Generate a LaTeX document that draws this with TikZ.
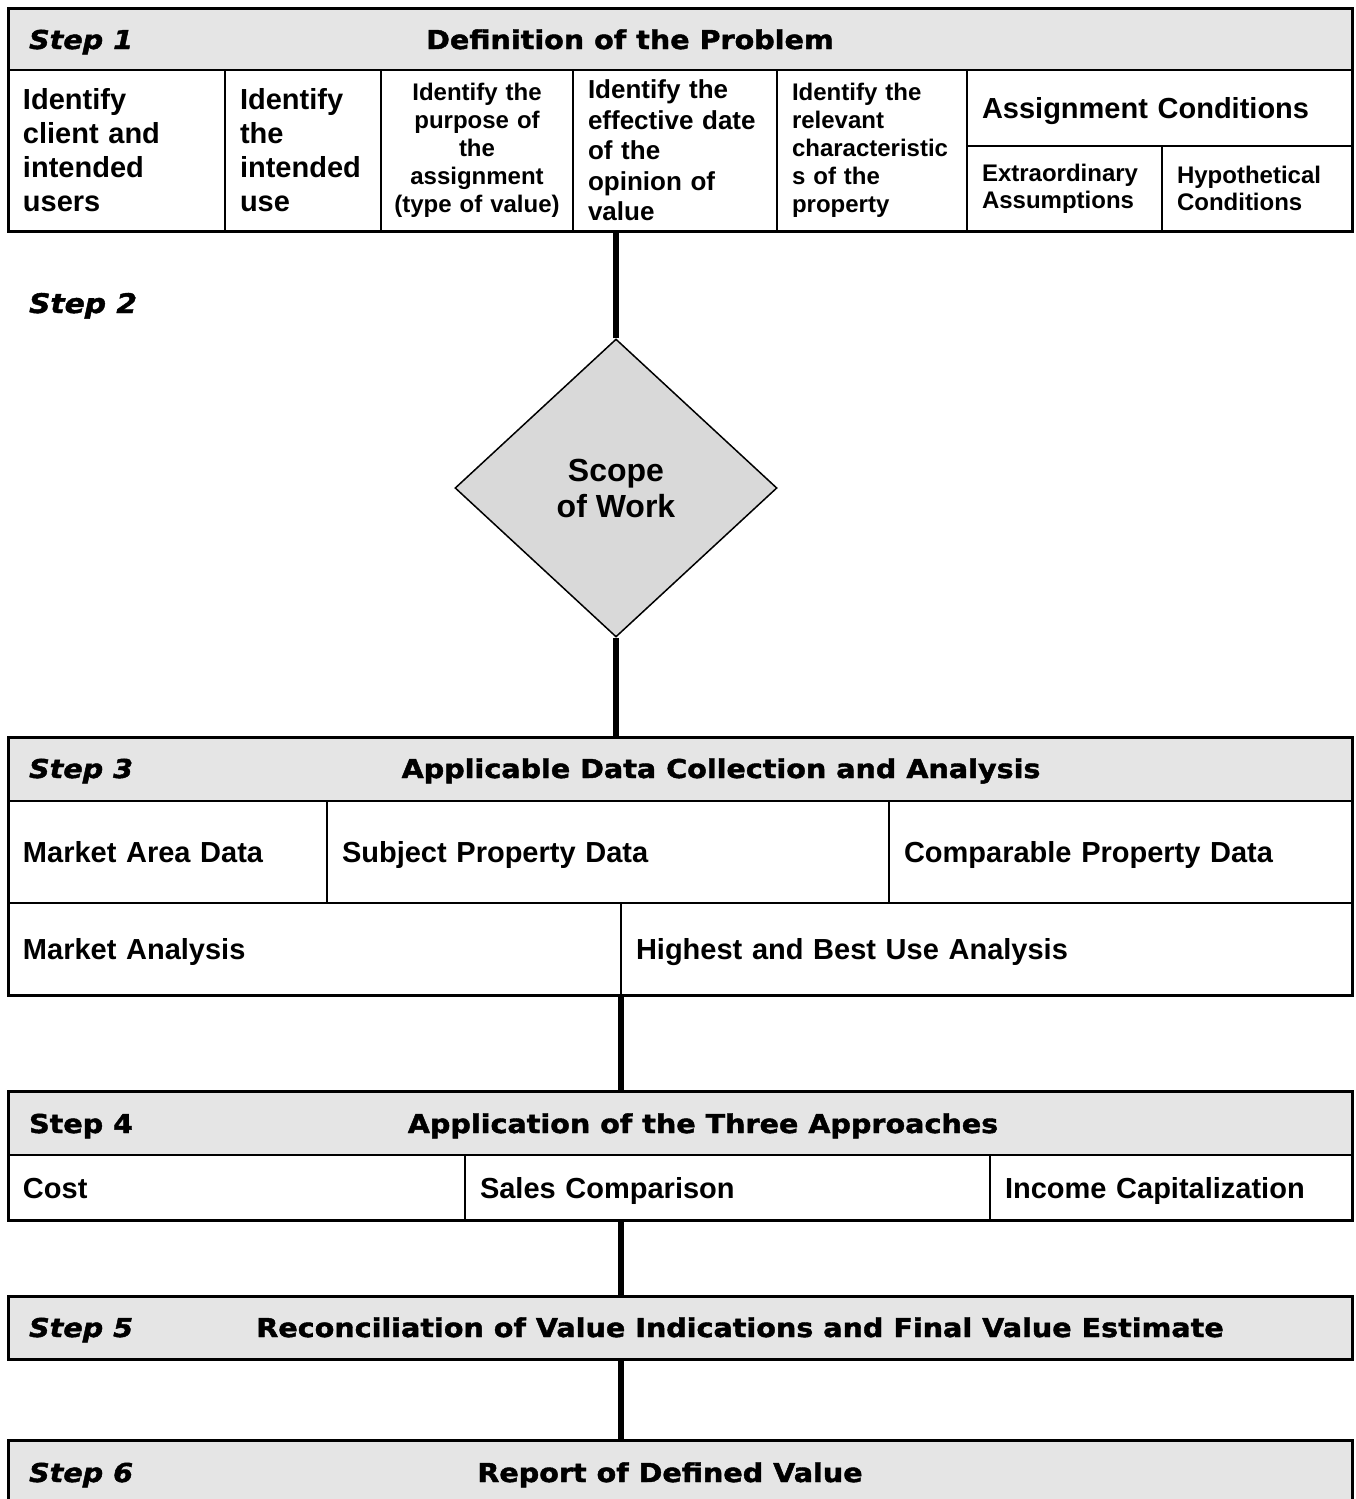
\documentclass[tikz,border=0pt]{standalone}
\usepackage{fontspec}
\setmainfont{Liberation Sans}
\newfontfamily\headfont{DejaVu Sans Bold}[FakeStretch=1.1,FakeBold=1.6]
\newfontfamily\headitfont{DejaVu Sans Bold Oblique}[FakeStretch=1.1,FakeBold=1.6]
\usepackage{tikz}
\usetikzlibrary{shapes.geometric,fit}
\definecolor{hdgray}{gray}{0.9}
\definecolor{dmgray}{gray}{0.85}
\tikzset{every picture/.style={line width=1.5pt}}

\begin{document}
\begin{tikzpicture}[x=1pt,y={(0pt,-1pt)},
  cell/.style={draw,anchor=north west,outer sep=0pt,inner xsep=15pt,inner ysep=0pt,align=left,font=\bfseries\fontsize{29}{34}\selectfont},
  oneline/.style={text height=26pt,text depth=5pt},
  small/.style={font=\bfseries\fontsize{24}{28}\selectfont},
  head/.style={draw,fill=hdgray,anchor=north west,outer sep=0pt,inner sep=0pt,minimum width=1344pt},
  frame/.style={draw,line width=3pt,inner sep=0pt},
  steplbl/.style={anchor=base west,font=\headitfont\fontsize{26}{30}\selectfont},
  title/.style={anchor=base,font=\headfont\fontsize{26}{30}\selectfont},
  link/.style={line width=6pt}]
\useasboundingbox (0,0) rectangle (1356,1499);
\clip (0,0) rectangle (1356,1499);

\node[head,minimum height=62pt] (h1) at (8,8) {};
\node[steplbl] (t1) at (25,49) {Step 1};
\node[title] (d1) at (630,49) {Definition of the Problem};
\node[cell,text width=187pt,minimum height=161pt,yshift=0pt] (c11) at (8,70) {Identify\\client and\\intended\\users};
\node[cell,text width=126pt,minimum height=161pt] (c12) at (225,70) {Identify\\the\\intended\\use};
\node[cell,small,align=center,inner xsep=10pt,text width=172pt,minimum height=161pt] (c13) at (381,70) {Identify the\\purpose of\\the\\assignment\\(type of value)};
\node[cell,font=\bfseries\fontsize{26}{30.5}\selectfont,text width=174pt,minimum height=161pt] (c14) at (573,70) {Identify the\\effective date\\of the\\opinion of\\value};
\node[cell,small,text width=160pt,minimum height=161pt] (c15) at (777,70) {Identify the\\relevant\\characteristic\\s of the\\property};
\node[cell,oneline,text width=355pt,minimum height=76pt] (c16) at (967,70) {Assignment Conditions};
\node[cell,font=\bfseries\fontsize{24}{27}\selectfont,text width=165pt,minimum height=85pt] (c17) at (967,146) {Extraordinary\\Assumptions};
\node[cell,font=\bfseries\fontsize{24}{27}\selectfont,text width=160pt,minimum height=85pt] (c18) at (1162,146) {Hypothetical\\Conditions};
\node[frame,fit=(h1)(c18)] (s1) {};

\node[steplbl,font=\headitfont\fontsize{27}{32}\selectfont] (t2) at (25,313) {Step 2};
\node[diamond,draw,fill=dmgray,minimum width=322pt,minimum height=298pt,inner sep=0pt,align=center,font=\bfseries\fontsize{32}{36}\selectfont] (sow) at (616,488) {Scope\\of Work};

\node[head,minimum height=64pt] (h3) at (8,737) {};
\node[steplbl] (t3) at (25,778) {Step 3};
\node[title] (d3) at (721,778) {Applicable Data Collection and Analysis};
\node[cell,oneline,text width=289pt,minimum height=102pt] (c31) at (8,801) {Market Area Data};
\node[cell,oneline,text width=532pt,minimum height=102pt] (c32) at (327,801) {Subject Property Data};
\node[cell,oneline,text width=433pt,minimum height=102pt] (c33) at (889,801) {Comparable Property Data};
\node[cell,oneline,text width=583pt,minimum height=92pt] (c34) at (8,903) {Market Analysis};
\node[cell,oneline,text width=701pt,minimum height=92pt] (c35) at (621,903) {Highest and Best Use Analysis};
\node[frame,fit=(h3)(c35)] (s3) {};

\node[head,minimum height=64pt] (h4) at (8,1091) {};
\node[steplbl,font=\headfont\fontsize{26}{30}\selectfont] (t4) at (25,1133) {Step 4};
\node[title] (d4) at (703,1133) {Application of the Three Approaches};
\node[cell,oneline,text width=427pt,minimum height=65pt] (c41) at (8,1155) {Cost};
\node[cell,oneline,text width=495pt,minimum height=65pt] (c42) at (465,1155) {Sales Comparison};
\node[cell,oneline,text width=332pt,minimum height=65pt] (c43) at (990,1155) {Income Capitalization};
\node[frame,fit=(h4)(c43)] (s4) {};

\node[head,frame,minimum height=63pt] (s5) at (8,1296) {};
\node[steplbl] (t5) at (25,1337) {Step 5};
\node[title] (d5) at (740,1337) {Reconciliation of Value Indications and Final Value Estimate};

\node[head,frame,minimum height=80pt] (s6) at (8,1440) {};
\node[steplbl] (t6) at (25,1482) {Step 6};
\node[title] (d6) at (670,1482) {Report of Defined Value};

\draw[link] (sow.north) -- (sow.north |- s1.south);
\draw[link] (sow.south) -- (sow.south |- s3.north);
\draw[link] (c34.south east) -- (c34.south east |- s4.north);
\draw[link] (s4.south -| c34.east) -- (s5.north -| c34.east);
\draw[link] (s5.south -| c34.east) -- (s6.north -| c34.east);
\end{tikzpicture}
\end{document}
